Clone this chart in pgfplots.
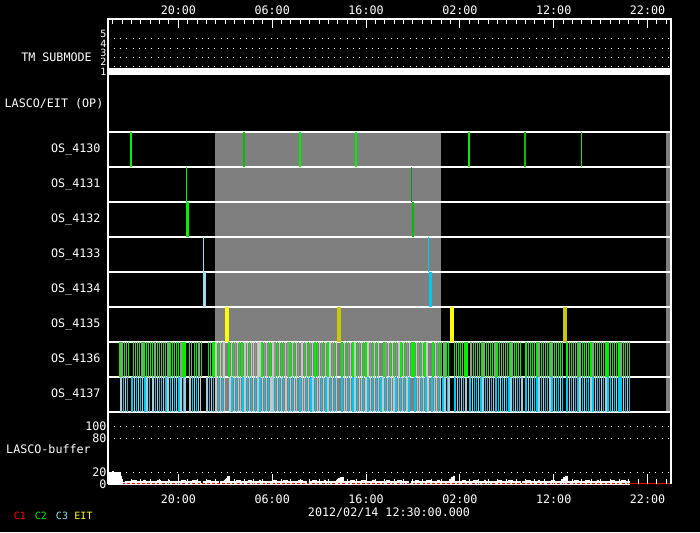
\documentclass[border=0pt]{standalone}
\usepackage{fontspec}
\setmainfont{DejaVu Sans Mono}
\usepackage{pgfplots}
\pgfplotsset{compat=1.18}
\definecolor{cG}{RGB}{0,240,0}
\definecolor{cD}{RGB}{0,190,0}
\definecolor{cDD}{RGB}{0,150,0}
\definecolor{cS}{RGB}{150,150,150}
\definecolor{cW}{RGB}{200,200,200}
\definecolor{cC}{RGB}{0,200,240}
\definecolor{cL}{RGB}{165,205,215}
\definecolor{cLL}{RGB}{150,225,240}
\definecolor{cY}{RGB}{255,255,0}
\definecolor{cO}{RGB}{200,200,0}
\definecolor{cGray}{RGB}{127,127,127}
\newcommand{\lbl}{\fontsize{11.7}{13}\selectfont}
\newcommand{\slbl}{\fontsize{10}{11}\selectfont}
\pgfplotsset{
  panel/.style={
    scale only axis, width=563pt, xmin=0, xmax=60,
    axis line style={white, line width=1.5pt},
    tick style={white, line width=1pt},
    tick label style={font=\lbl, text=white},
    /pgf/number format/assume math mode=true,
  },
  timeticks/.style={
    xtick={7.5,17.5,27.5,37.5,47.5,57.5},
    xticklabels={20:00,06:00,16:00,02:00,12:00,22:00},
    minor xtick={0.5,1.5,...,59.5},
  },
  dots/.style={white, line width=1pt, dash pattern=on 1pt off 5.3pt},
  osbar/.style={only marks, mark=|, mark size=17.5pt, color=#1, mark options={line width=1.3pt}},
}
\begin{document}
\begin{tikzpicture}
\fill[black] (0,0) rectangle (700pt,-532pt);
\useasboundingbox (0,0) rectangle (700pt,-532pt);

% ---------------- TM SUBMODE + LASCO/EIT (OP)
\begin{axis}[panel, at={(108pt,-19pt)}, anchor=north west, height=113pt,
  ymin=-5.484, ymax=6.627, timeticks,
  xtick pos=right, xticklabel pos=right,
  tick align=inside, major tick length=9pt, minor tick length=5pt,
  ytick={1,2,3,4,5}, ytick style={draw=none},
  xticklabel style={yshift=1pt},
  yticklabel style={xshift=2pt, font=\slbl},
]
\addplot[white, line width=7pt] coordinates {(0,1) (60,1)};
\addplot[dots] coordinates {(0.6,1.5) (60,1.5)};
\addplot[dots] coordinates {(0.6,2.5) (60,2.5)};
\addplot[dots] coordinates {(0.6,3.5) (60,3.5)};
\addplot[dots] coordinates {(0.6,4.5) (60,4.5)};
\end{axis}

% ---------------- OS rows
\begin{axis}[panel, at={(108pt,-132pt)}, anchor=north west, height=280pt,
  ymin=0, ymax=8, y dir=reverse, axis on top,
  xtick=\empty,
  ytick={0.5,1.5,2.5,3.5,4.5,5.5,6.5,7.5},
  yticklabels={OS\_4130,OS\_4131,OS\_4132,OS\_4133,OS\_4134,OS\_4135,OS\_4136,OS\_4137},
  ytick style={draw=none},
  minor ytick={1,2,3,4,5,6,7}, yminorgrids=true,
  minor grid style={white, line width=1.5pt},
  major tick length=0pt, minor tick length=0pt,
  yticklabel style={xshift=-4pt},
]
\addplot[draw=none, fill=cGray] coordinates {(11.41,0) (35.5,0) (35.5,8) (11.41,8)};
\addplot[draw=none, fill=cGray] coordinates {(59.49,0) (60,0) (60,8) (59.49,8)};
% OS_4130
\addplot[only marks, mark=|, mark size=17.5pt, color=cG, mark options={line width=2.5pt}] coordinates {(2.45,0.5) (20.47,0.5) (26.44,0.5) (38.49,0.5)};
\addplot[only marks, mark=|, mark size=17.5pt, color=cD, mark options={line width=2.5pt}] coordinates {(14.50,0.5) (44.46,0.5)};
\addplot[only marks, mark=|, mark size=17.5pt, color=cG, mark options={line width=1pt}] coordinates {(50.43,0.5)};
% OS_4131
\addplot[only marks, mark=|, mark size=17.5pt, color=cG, mark options={line width=1pt}] coordinates {(8.35,1.5)};
\addplot[only marks, mark=|, mark size=17.5pt, color=cDD, mark options={line width=1pt}] coordinates {(32.30,1.5)};
% OS_4132
\addplot[only marks, mark=|, mark size=17.5pt, color=cG, mark options={line width=3pt}] coordinates {(8.45,2.5)};
\addplot[only marks, mark=|, mark size=17.5pt, color=cD, mark options={line width=2pt}] coordinates {(32.48,2.5)};
% OS_4133
\addplot[only marks, mark=|, mark size=17.5pt, color=cLL, mark options={line width=1pt}] coordinates {(10.16,3.5)};
\addplot[only marks, mark=|, mark size=17.5pt, color=cC, mark options={line width=1pt}] coordinates {(34.15,3.5)};
% OS_4134
\addplot[only marks, mark=|, mark size=17.5pt, color=cLL, mark options={line width=3.5pt}] coordinates {(10.31,4.5)};
\addplot[only marks, mark=|, mark size=17.5pt, color=cC, mark options={line width=3pt}] coordinates {(34.36,4.5)};
% OS_4135
\addplot[only marks, mark=|, mark size=17.5pt, color=cY, mark options={line width=4pt}] coordinates {(12.69,5.5) (36.67,5.5)};
\addplot[only marks, mark=|, mark size=17.5pt, color=cO, mark options={line width=4pt}] coordinates {(24.63,5.5) (48.72,5.5)};
% OS_4136 : bright green
\addplot[osbar=cG] coordinates {
(1.28,6.5) (1.73,6.5) (2.20,6.5) (2.70,6.5) (3.16,6.5) (3.39,6.5) (3.85,6.5) (4.08,6.5) (4.54,6.5) (4.77,6.5) (5.24,6.5) (5.47,6.5) (5.93,6.5) (6.16,6.5) (6.62,6.5) (6.85,6.5) (7.31,6.5) (7.54,6.5) (8.00,6.5) (8.21,6.5) (8.67,6.5) (9.19,6.5) (9.45,6.5) (9.99,6.5) (10.69,6.5) (11.10,6.5) (11.30,6.5) (11.74,6.5) (12.90,6.5) (13.36,6.5) (14.05,6.5) (14.28,6.5) (15.06,6.5) (16.42,6.5) (17.11,6.5) (17.34,6.5) (18.03,6.5) (18.49,6.5) (18.72,6.5) (19.41,6.5) (19.87,6.5) (20.91,6.5) (21.37,6.5) (22.06,6.5) (22.29,6.5) (22.98,6.5) (23.44,6.5) (24.13,6.5) (24.95,6.5) (25.41,6.5) (26.10,6.5) (26.56,6.5) (27.25,6.5) (27.48,6.5) (28.17,6.5) (28.63,6.5) (29.40,6.5) (30.09,6.5) (30.55,6.5) (31.24,6.5) (31.70,6.5) (32.39,6.5) (32.62,6.5) (33.31,6.5) (33.77,6.5) (34.65,6.5) (35.34,6.5) (35.57,6.5) (36.03,6.5) (36.25,6.5) (36.89,6.5) (37.35,6.5) (37.58,6.5) (38.04,6.5) (38.27,6.5) (38.93,6.5) (39.16,6.5) (39.62,6.5) (39.85,6.5) (40.31,6.5) (40.77,6.5) (41.00,6.5) (41.46,6.5) (41.69,6.5) (42.15,6.5) (42.61,6.5) (42.84,6.5) (43.30,6.5) (43.53,6.5) (43.99,6.5) (44.56,6.5) (45.02,6.5) (45.25,6.5) (45.71,6.5) (46.17,6.5) (46.40,6.5) (46.86,6.5) (47.09,6.5) (47.55,6.5) (48.01,6.5) (48.24,6.5) (48.93,6.5) (49.39,6.5) (49.62,6.5) (50.08,6.5) (50.54,6.5) (50.77,6.5) (51.23,6.5) (51.46,6.5) (51.92,6.5) (52.38,6.5) (52.61,6.5) (53.07,6.5) (53.30,6.5) (53.76,6.5) (54.22,6.5) (54.45,6.5) (54.91,6.5) (55.14,6.5) (55.54,6.5)
};
% OS_4136 : grey
\addplot[osbar=cS] coordinates {
(1.50,6.5) (1.96,6.5) (2.93,6.5) (3.62,6.5) (4.31,6.5) (5.01,6.5) (5.70,6.5) (6.39,6.5) (7.08,6.5) (7.77,6.5) (8.93,6.5) (9.71,6.5) (10.90,6.5) (12.20,6.5) (13.59,6.5) (15.75,6.5) (16.65,6.5) (17.80,6.5) (19.18,6.5) (20.33,6.5) (21.60,6.5) (22.75,6.5) (23.90,6.5) (25.64,6.5) (26.79,6.5) (27.94,6.5) (29.63,6.5) (30.78,6.5) (31.93,6.5) (33.08,6.5) (35.11,6.5) (35.80,6.5) (37.12,6.5) (37.81,6.5) (38.70,6.5) (39.39,6.5) (40.08,6.5) (40.54,6.5) (41.23,6.5) (41.92,6.5) (42.38,6.5) (43.07,6.5) (43.76,6.5) (44.79,6.5) (45.48,6.5) (45.94,6.5) (46.63,6.5) (47.32,6.5) (47.78,6.5) (48.47,6.5) (49.16,6.5) (49.85,6.5) (50.31,6.5) (51.00,6.5) (51.69,6.5) (52.15,6.5) (52.84,6.5) (53.53,6.5) (53.99,6.5) (54.68,6.5) (55.37,6.5)
};
% OS_4136 : light grey
\addplot[osbar=cW] coordinates {
(11.51,6.5) (11.97,6.5) (12.37,6.5) (13.13,6.5) (13.82,6.5) (14.60,6.5) (14.83,6.5) (15.29,6.5) (15.52,6.5) (15.98,6.5) (16.20,6.5) (16.88,6.5) (17.57,6.5) (18.26,6.5) (18.95,6.5) (19.64,6.5) (20.10,6.5) (20.68,6.5) (21.14,6.5) (21.83,6.5) (22.52,6.5) (23.21,6.5) (23.67,6.5) (24.36,6.5) (25.18,6.5) (25.87,6.5) (26.33,6.5) (27.02,6.5) (27.71,6.5) (28.40,6.5) (28.86,6.5) (29.86,6.5) (30.32,6.5) (31.01,6.5) (31.47,6.5) (32.16,6.5) (32.85,6.5) (33.54,6.5) (34.00,6.5) (34.88,6.5)
};
% OS_4137 : cyan
\addplot[osbar=cC] coordinates {
(1.62,7.5) (2.10,7.5) (2.56,7.5) (3.02,7.5) (3.48,7.5) (3.94,7.5) (4.40,7.5) (5.03,7.5) (5.49,7.5) (5.72,7.5) (6.18,7.5) (6.64,7.5) (7.10,7.5) (7.56,7.5) (8.02,7.5) (8.97,7.5) (9.43,7.5) (10.78,7.5) (11.24,7.5) (11.74,7.5) (12.20,7.5) (13.23,7.5) (13.69,7.5) (14.38,7.5) (14.83,7.5) (15.29,7.5) (15.75,7.5) (16.21,7.5) (16.67,7.5) (17.13,7.5) (17.82,7.5) (18.28,7.5) (18.74,7.5) (19.20,7.5) (19.66,7.5) (20.47,7.5) (21.16,7.5) (21.62,7.5) (22.08,7.5) (22.77,7.5) (23.23,7.5) (23.69,7.5) (24.15,7.5) (24.95,7.5) (25.64,7.5) (26.10,7.5) (26.56,7.5) (27.25,7.5) (27.71,7.5) (28.17,7.5) (28.63,7.5) (29.09,7.5) (29.55,7.5) (30.01,7.5) (30.70,7.5) (31.16,7.5) (31.62,7.5) (32.08,7.5) (32.73,7.5) (33.42,7.5) (33.88,7.5) (34.54,7.5) (35.23,7.5) (35.69,7.5) (36.15,7.5) (36.99,7.5) (37.45,7.5) (37.91,7.5) (38.59,7.5) (39.05,7.5) (39.28,7.5) (39.74,7.5) (40.20,7.5) (40.43,7.5) (40.89,7.5) (41.35,7.5) (41.58,7.5) (42.04,7.5) (42.50,7.5) (42.73,7.5) (43.19,7.5) (43.65,7.5) (43.88,7.5) (44.56,7.5) (45.02,7.5) (45.48,7.5) (45.71,7.5) (46.17,7.5) (46.63,7.5) (46.86,7.5) (47.32,7.5) (47.78,7.5) (48.01,7.5) (48.47,7.5) (48.93,7.5) (49.39,7.5) (49.85,7.5) (50.08,7.5) (50.54,7.5) (51.00,7.5) (51.23,7.5) (51.69,7.5) (52.15,7.5) (52.38,7.5) (52.84,7.5) (53.30,7.5) (53.53,7.5) (53.99,7.5) (54.45,7.5) (54.68,7.5) (55.14,7.5) (55.60,7.5)
};
% OS_4137 : pale blue-grey
\addplot[osbar=cL] coordinates {
(1.39,7.5) (1.85,7.5) (2.79,7.5) (3.25,7.5) (3.71,7.5) (4.17,7.5) (4.80,7.5) (5.26,7.5) (5.95,7.5) (6.41,7.5) (6.87,7.5) (7.33,7.5) (7.79,7.5) (8.21,7.5) (8.74,7.5) (9.20,7.5) (9.66,7.5) (10.55,7.5) (11.01,7.5) (11.97,7.5) (13.46,7.5) (14.15,7.5) (15.06,7.5) (15.98,7.5) (16.90,7.5) (17.59,7.5) (18.51,7.5) (19.43,7.5) (20.12,7.5) (20.93,7.5) (21.85,7.5) (22.54,7.5) (23.46,7.5) (24.38,7.5) (25.41,7.5) (26.33,7.5) (27.02,7.5) (27.94,7.5) (28.86,7.5) (29.78,7.5) (30.47,7.5) (31.39,7.5) (32.96,7.5) (33.65,7.5) (34.77,7.5) (35.46,7.5) (35.92,7.5) (36.35,7.5) (37.22,7.5) (37.68,7.5) (38.14,7.5) (38.82,7.5) (39.51,7.5) (39.97,7.5) (40.66,7.5) (41.12,7.5) (41.81,7.5) (42.27,7.5) (42.96,7.5) (43.42,7.5) (44.11,7.5) (44.79,7.5) (45.25,7.5) (45.94,7.5) (46.40,7.5) (47.09,7.5) (47.55,7.5) (48.24,7.5) (49.16,7.5) (49.62,7.5) (50.31,7.5) (50.77,7.5) (51.46,7.5) (51.92,7.5) (52.61,7.5) (53.07,7.5) (53.76,7.5) (54.22,7.5) (54.91,7.5) (55.37,7.5)
};
% OS_4137 : whitish
\addplot[osbar=cW] coordinates {
(9.89,7.5) (11.51,7.5) (12.43,7.5) (13.00,7.5) (13.92,7.5) (14.60,7.5) (15.52,7.5) (16.44,7.5) (17.36,7.5) (18.05,7.5) (18.97,7.5) (19.89,7.5) (20.70,7.5) (21.39,7.5) (22.31,7.5) (23.00,7.5) (23.92,7.5) (25.18,7.5) (25.87,7.5) (26.79,7.5) (27.48,7.5) (28.40,7.5) (29.32,7.5) (30.24,7.5) (30.93,7.5) (31.85,7.5) (33.19,7.5) (34.11,7.5) (35.00,7.5)
};
\end{axis}

% ---------------- LASCO-buffer
\begin{axis}[panel, at={(108pt,-412pt)}, anchor=north west, height=72pt,
  ymin=0, ymax=125.6, axis line style={draw=none}, axis on top,
  timeticks, xtick pos=left, xticklabel pos=left,
  tick align=inside, major tick length=10pt, minor tick length=5pt,
  ytick={0,20,80,100}, ytick style={draw=none},
  xticklabel style={yshift=-7pt},
  yticklabel style={xshift=2pt},
]
\addplot[dots] coordinates {(0.6,20) (60,20)};
\addplot[dots] coordinates {(0.6,80) (60,80)};
\addplot[dots] coordinates {(0.6,100) (60,100)};
\addplot[const plot, fill=white, draw=white, line width=0.5pt] coordinates {
(0,20) (0.45,22) (0.6,20) (1.35,14) (1.45,8) (1.55,3) (1.8,5) (2.2,4) (2.6,6) (3.0,4) (3.4,5) (3.8,7) (3.95,4) (4.4,5) (4.8,4) (5.2,6) (5.6,4) (6.0,5) (6.4,7) (6.55,4) (7.0,5) (7.4,4) (7.8,6) (8.2,5) (8.6,4) (9.0,6) (9.4,4) (9.8,1) (10.1,5) (10.5,6) (10.9,4) (11.3,5) (11.7,1) (12.0,4) (12.35,7) (12.55,10) (12.75,13) (12.95,5) (13.3,4) (13.7,6) (14.1,4) (14.5,5) (14.9,6) (15.3,4) (15.7,5) (16.1,7) (16.25,4) (16.7,5) (17.1,4) (17.5,6) (17.9,5) (18.3,4) (18.7,6) (19.1,4) (19.5,5) (19.9,4) (20.3,6) (20.7,5) (21.1,1) (21.4,5) (21.8,6) (22.2,4) (22.6,5) (23.0,7) (23.15,4) (23.6,5) (24.0,4) (24.3,7) (24.5,10) (24.7,12) (24.9,11) (25.05,5) (25.4,4) (25.8,6) (26.2,4) (26.6,5) (27.0,6) (27.4,4) (27.8,5) (28.2,7) (28.35,4) (28.8,5) (29.2,4) (29.6,6) (30.0,5) (30.4,4) (30.8,6) (31.2,4) (31.6,5) (32.0,1) (32.3,5) (32.7,6) (33.1,4) (33.5,5) (33.9,6) (34.3,4) (34.7,5) (35.1,7) (35.25,4) (35.7,5) (36.1,4) (36.35,8) (36.55,12) (36.75,14) (36.95,5) (37.3,4) (37.7,6) (38.1,4) (38.5,5) (38.9,6) (39.3,4) (39.7,5) (40.1,7) (40.25,4) (40.7,5) (41.1,4) (41.5,6) (41.9,5) (42.3,4) (42.7,6) (43.1,4) (43.5,5) (43.9,1) (44.2,5) (44.6,6) (45.0,4) (45.4,5) (45.8,7) (45.95,4) (46.4,5) (46.8,4) (47.2,6) (47.6,5) (48.0,4) (48.35,8) (48.55,12) (48.75,14) (48.95,5) (49.3,4) (49.7,6) (50.1,4) (50.5,5) (50.9,6) (51.3,4) (51.7,5) (52.1,7) (52.25,4) (52.7,5) (53.1,4) (53.5,6) (53.9,5) (54.3,4) (54.7,6) (55.1,4) (55.57,0)
} \closedcycle;
\addplot[red, line width=1pt, dash pattern=on 3pt off 2pt] coordinates {(1.5,1.2) (55.57,1.2)};
\addplot[red, line width=1pt] coordinates {(55.57,1.2) (60,1.2)};
\end{axis}

% frame sides of buffer panel
\draw[white, line width=1.5pt] (108pt,-411pt) -- (108pt,-484pt);
\draw[white, line width=1.5pt] (671pt,-411pt) -- (671pt,-484pt);

% labels
\node[text=white, font=\lbl] at (56.5pt,-57.5pt) {TM SUBMODE};
\node[text=white, font=\lbl] at (54pt,-104pt) {LASCO/EIT (OP)};
\node[text=white, font=\lbl] at (48.5pt,-449pt) {LASCO-buffer};
\node[text=white, font=\lbl] at (389pt,-513pt) {2012/02/14 12:30:00.000};
\node[text=red, font=\slbl] at (20pt,-516pt) {C1};
\node[text=cG, font=\slbl] at (41pt,-516pt) {C2};
\node[text=cLL, font=\slbl] at (62pt,-516pt) {C3};
\node[text=cY, font=\slbl] at (83.5pt,-516pt) {EIT};
\end{tikzpicture}
\end{document}
